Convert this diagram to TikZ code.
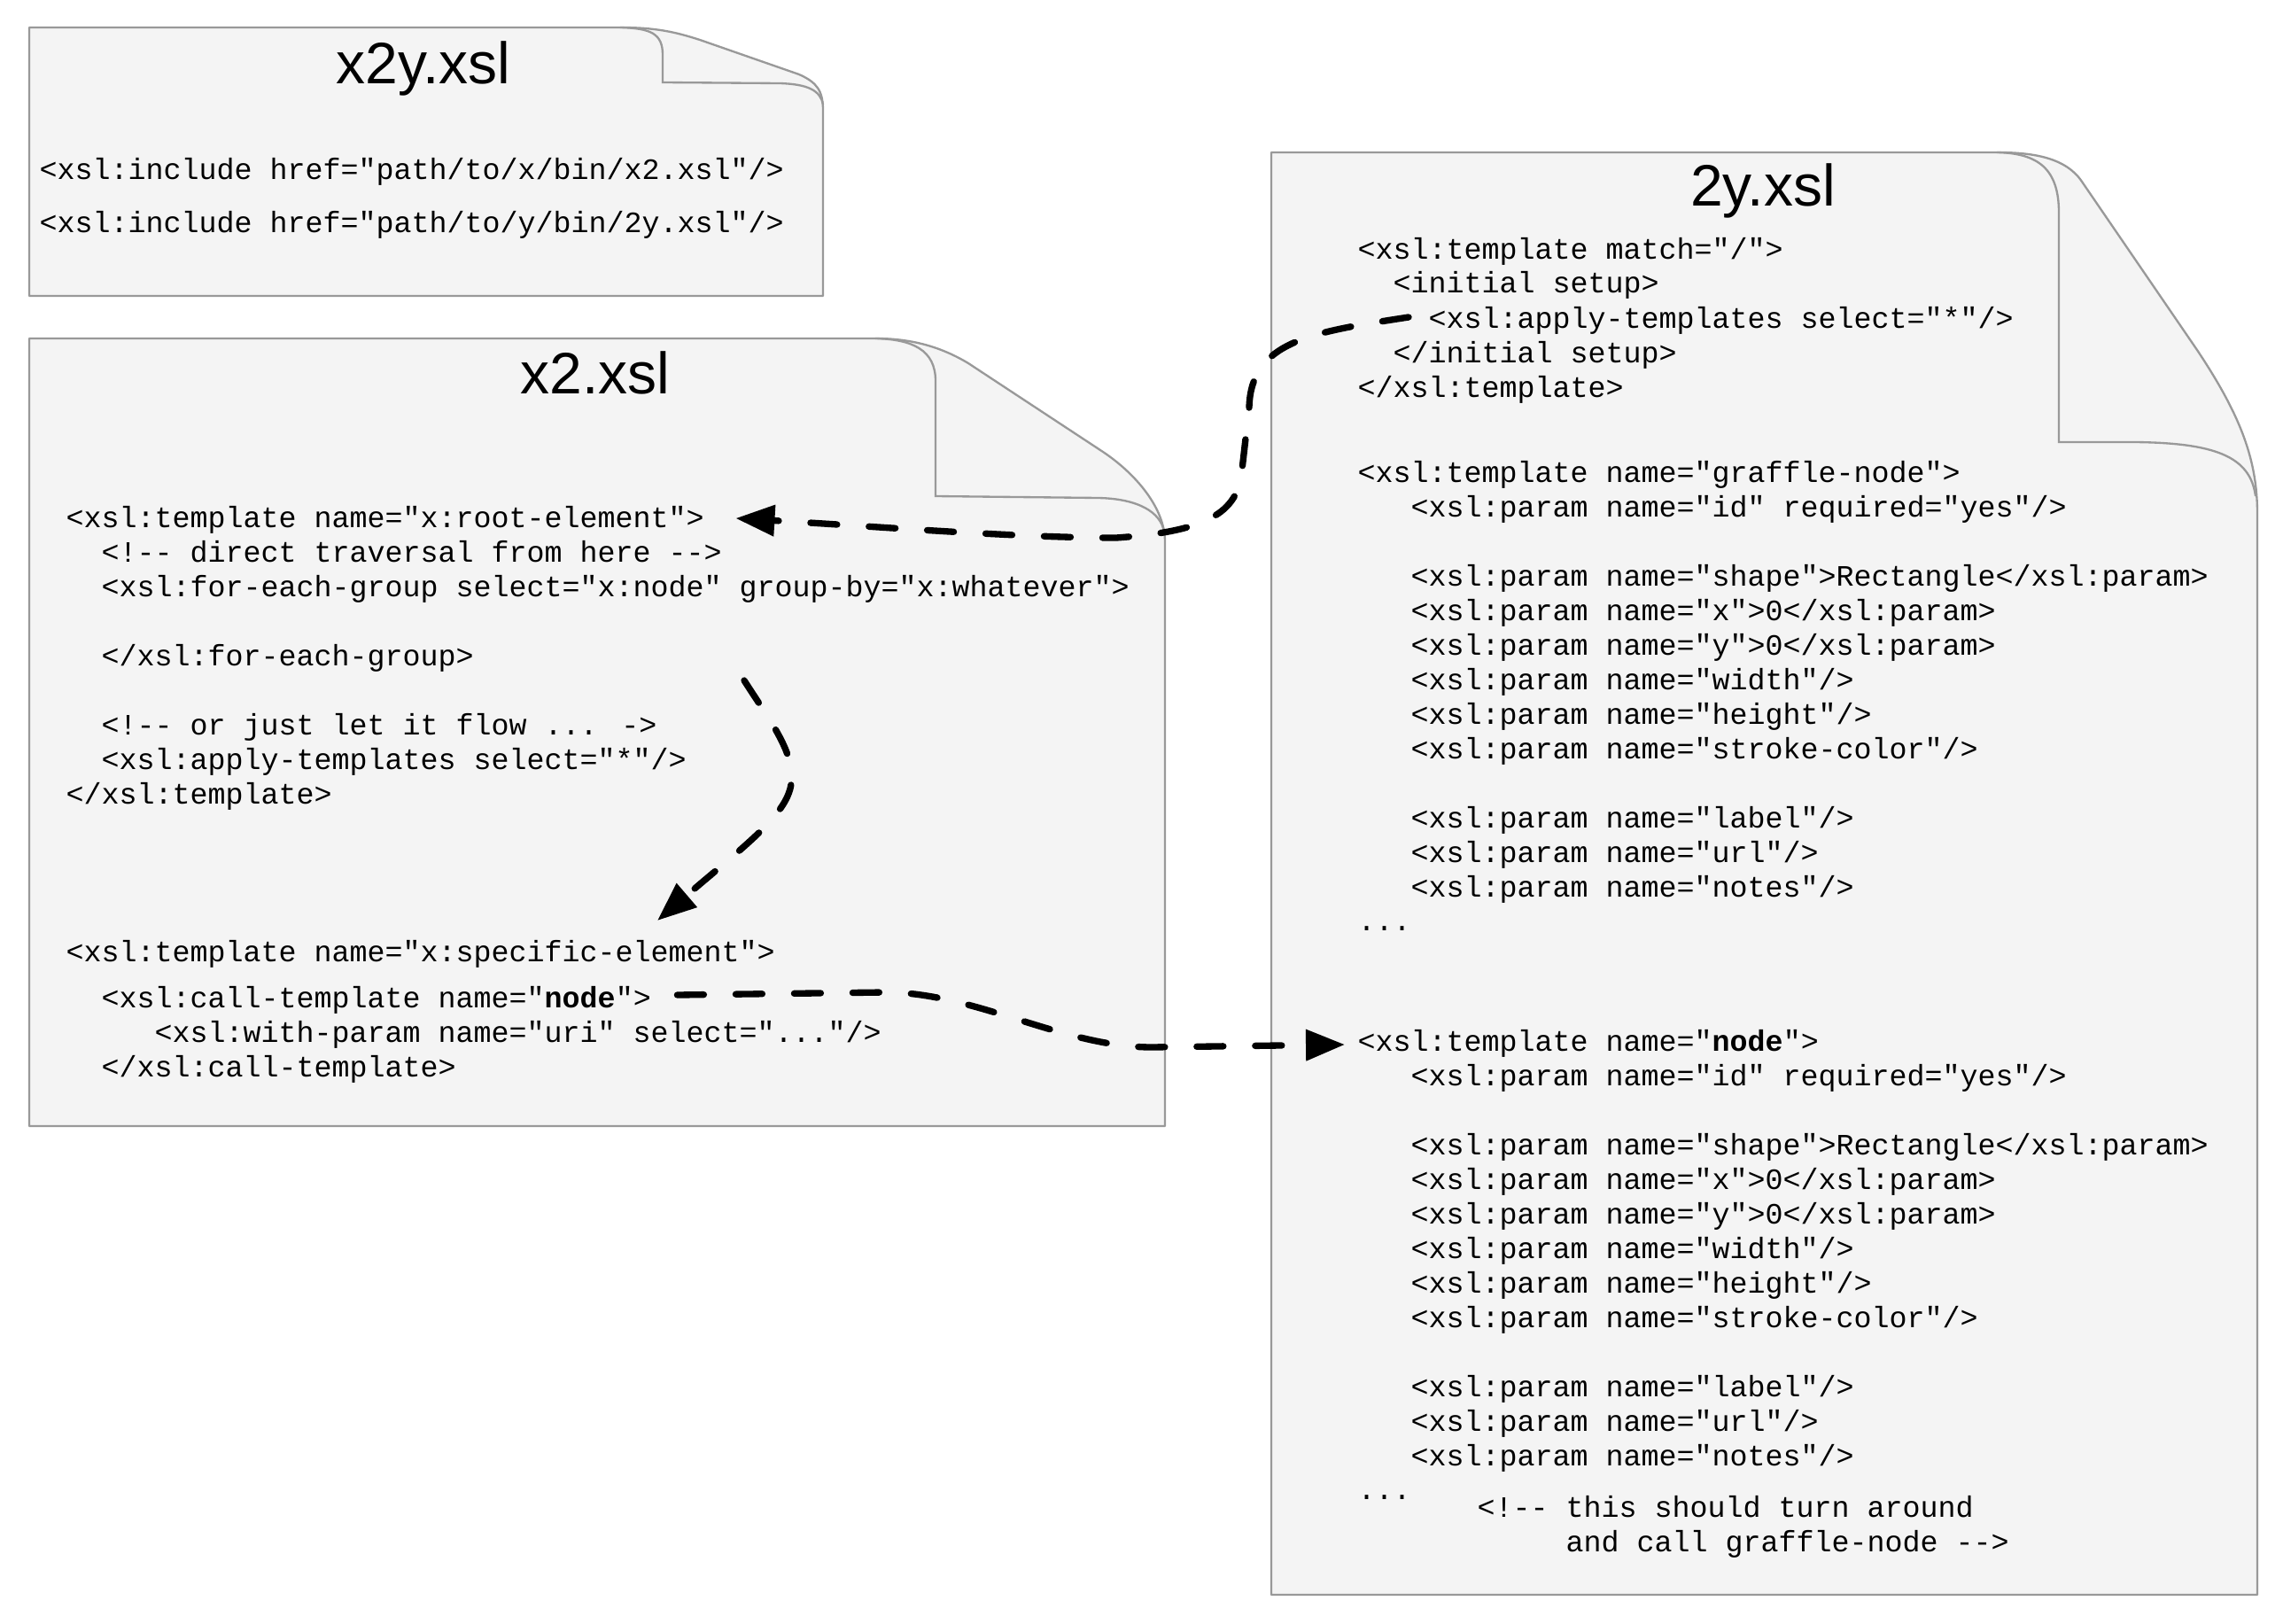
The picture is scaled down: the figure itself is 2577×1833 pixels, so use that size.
\documentclass[tikz,border=0pt]{standalone}
\usepackage{fontspec}
\setmainfont{Liberation Sans}
\newfontfamily\codefont{Liberation Mono}[Ligatures=TeXOff]
\usetikzlibrary{arrows.meta,calc}
\definecolor{docfill}{HTML}{F4F4F4}
\definecolor{docline}{HTML}{999999}
\tikzset{
  doc/.style={fill=docfill, draw=docline, line width=0.7pt, line join=round},
  fold/.style={draw=docline, line width=0.7pt},
  code/.style={font=\codefont\fontsize{10pt}{11.7pt}\selectfont, anchor=base west, inner sep=0pt},
  doctitle/.style={font=\fontsize{19.8pt}{23pt}\selectfont, anchor=base, inner sep=0pt},
  flow/.style={draw=black, line width=2.2pt, line cap=round, dash pattern=on 9pt off 10.8pt,
    -{Triangle[length=13.2pt,width=10.2pt]}},
}
\begin{document}
\begin{tikzpicture}[x=0.3pt,y=-0.3pt]
\useasboundingbox (0,0) rectangle (2577,1833);

% ---------- documents ----------
\path[doc] (33,31) -- (700,31) .. controls (740,31) and (762,36) .. (790,45) -- (902,84)
  .. controls (922,93) and (929,102) .. (929,125) -- (929,334) -- (33,334) -- cycle;
\draw[fold] (700,31) .. controls (735,32) and (748,38) .. (748,62) -- (748,93) -- (880,94)
  .. controls (912,95) and (926,102) .. (929,118);

\path[doc] (33,382) -- (988,382) .. controls (1030,382) and (1063,392) .. (1093,410) -- (1245,510)
  .. controls (1278,532) and (1314,570) .. (1315,610) -- (1315,1271) -- (33,1271) -- cycle;
\draw[fold] (988,382) .. controls (1030,383) and (1056,395) .. (1056,430) -- (1056,560) -- (1240,562)
  .. controls (1285,563) and (1310,578) .. (1314,600);

\path[doc] (1435,172) -- (2254,172) .. controls (2295,172) and (2332,178) .. (2350,205) -- (2480,395)
  .. controls (2530,470) and (2548,520) .. (2548,580) -- (2548,1800) -- (1435,1800) -- cycle;
\draw[fold] (2254,172) .. controls (2300,173) and (2324,190) .. (2324,240) -- (2324,499) -- (2410,499)
  .. controls (2500,500) and (2540,515) .. (2546,560);

% ---------- titles ----------
\node[doctitle] (t1) at (478,95) {x2y.xsl};
\node[doctitle] (t2) at (672,444) {x2.xsl};
\node[doctitle] (t3) at (1990,233) {2y.xsl};

% ---------- x2y.xsl ----------
\node[code] (i1) at (44,203) {<xsl:include href="path/to/x/bin/x2.xsl"/>};
\node[code] (i2) at (44,263) {<xsl:include href="path/to/y/bin/2y.xsl"/>};

% ---------- x2.xsl ----------
\node[code] (r1) at (74,595) {<xsl:template name="x:root-element">};
\node[code] (r2) at (114,634) {<!-- direct traversal from here -->};
\node[code] (r3) at (114,673) {<xsl:for-each-group select="x:node" group-by="x:whatever">};
\node[code] (r4) at (114,751) {</xsl:for-each-group>};
\node[code] (r5) at (114,829) {<!-- or just let it flow ... ->};
\node[code] (r6) at (114,868) {<xsl:apply-templates select="*"/>};
\node[code] (r7) at (74,907) {</xsl:template>};
\node[code] (s1) at (74,1085) {<xsl:template name="x:specific-element">};
\node[code] (c1) at (114,1137) {<xsl:call-template name="\textbf{node}">};
\node[code] (c2) at (174,1176) {<xsl:with-param name="uri" select="..."/>};
\node[code] (c3) at (114,1215) {</xsl:call-template>};

% ---------- 2y.xsl ----------
\node[code] (ya1) at (1532,292) {<xsl:template match="/">};
\node[code] (ya2) at (1572,331) {<initial setup>};
\node[code] (ya3) at (1612,370) {<xsl:apply-templates select="*"/>};
\node[code] (ya4) at (1572,409) {</initial setup>};
\node[code] (ya5) at (1532,448) {</xsl:template>};

\node[code] (g1) at (1532,544) {<xsl:template name="graffle-node">};
\node[code] (g2) at (1592,583) {<xsl:param name="id" required="yes"/>};
\node[code] (g3) at (1592,661) {<xsl:param name="shape">Rectangle</xsl:param>};
\node[code] (g4) at (1592,700) {<xsl:param name="x">0</xsl:param>};
\node[code] (g5) at (1592,739) {<xsl:param name="y">0</xsl:param>};
\node[code] (g6) at (1592,778) {<xsl:param name="width"/>};
\node[code] (g7) at (1592,817) {<xsl:param name="height"/>};
\node[code] (g8) at (1592,856) {<xsl:param name="stroke-color"/>};
\node[code] (g9) at (1592,934) {<xsl:param name="label"/>};
\node[code] (g10) at (1592,973) {<xsl:param name="url"/>};
\node[code] (g11) at (1592,1012) {<xsl:param name="notes"/>};
\node[code] (g12) at (1532,1050) {...};

\node[code] (n1) at (1532,1186) {<xsl:template name="\textbf{node}">};
\node[code] (n2) at (1592,1225) {<xsl:param name="id" required="yes"/>};
\node[code] (n3) at (1592,1303) {<xsl:param name="shape">Rectangle</xsl:param>};
\node[code] (n4) at (1592,1342) {<xsl:param name="x">0</xsl:param>};
\node[code] (n5) at (1592,1381) {<xsl:param name="y">0</xsl:param>};
\node[code] (n6) at (1592,1420) {<xsl:param name="width"/>};
\node[code] (n7) at (1592,1459) {<xsl:param name="height"/>};
\node[code] (n8) at (1592,1498) {<xsl:param name="stroke-color"/>};
\node[code] (n9) at (1592,1576) {<xsl:param name="label"/>};
\node[code] (n10) at (1592,1615) {<xsl:param name="url"/>};
\node[code] (n11) at (1592,1654) {<xsl:param name="notes"/>};
\node[code] (n12) at (1532,1692) {...};
\node[code] (m1) at (1667,1712) {<!-- this should turn around};
\node[code] (m2) at (1767,1751) {and call graffle-node -->};

% ---------- connectors ----------
\coordinate (flowStart) at (840,768);

\draw[flow] ($(ya3.base west)+(-22,-12)$) .. controls (1480,375) and (1412,385) .. (1410,460)
  -- (1402,530) .. controls (1398,580) and (1360,600) .. (1260,607)
  .. controls (1150,607) and (1000,595) .. ($(r1.base east)+(35,-10)$);

\draw[flow] (flowStart) .. controls (870,815) and (898,850) .. (893,885)
  .. controls (888,920) and (840,955) .. ($(s1.base west)+(668,-46)$);

\draw[flow] ($(c1.base east)+(29,-14)$) -- (1000,1120) .. controls (1100,1120) and (1200,1182) .. (1300,1182)
  -- ($(n1.base west)+(-14,-7)$);
\end{tikzpicture}
\end{document}
